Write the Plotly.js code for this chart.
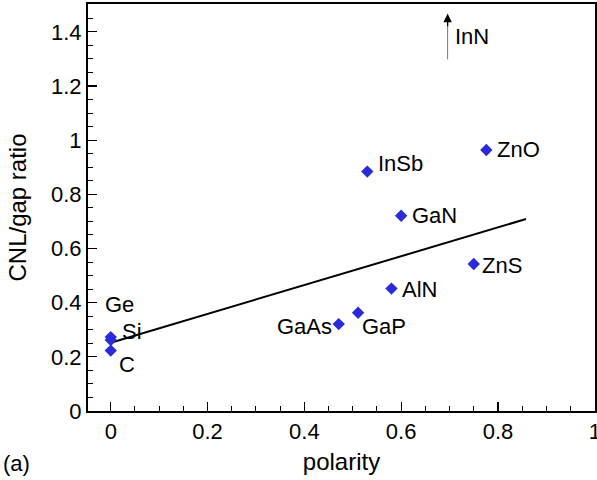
<!DOCTYPE html>
<html><head><meta charset="utf-8">
<script src="https://cdn.plot.ly/plotly-3.0.1.min.js"></script>
<style>body{margin:0;padding:0;background:#fff}#chart{width:597px;height:480px}</style>
</head><body><div id="chart"></div>
<script>
// Data
const materials = ["Ge","Si","C","InSb","GaN","ZnO","ZnS","AlN","GaP","GaAs"];
const polarity  = [0.0, 0.0, 0.0, 0.53, 0.60, 0.776, 0.75, 0.58, 0.511, 0.471];
const ratio     = [0.273, 0.262, 0.223, 0.884, 0.721, 0.964, 0.543, 0.452, 0.363, 0.321];
const fitX = [0.0, 0.858];
const fitY = [0.252, 0.709];
const innX = [0.696, 0.696];
const innY = [1.293, 1.467];
const innLabel = "InN";

// label placement (pixels, relative to point)
const labelShift = {
  Ge:[-8,33,'left'], Si:[9,9,'left'], C:[6,-14,'left'], InSb:[9,8,'left'], GaN:[9,0,'left'],
  ZnO:[9,0,'left'], ZnS:[6,-2,'left'], AlN:[9,-1,'left'], GaP:[2,-14,'left'], GaAs:[-5,-2,'right']
};

const font = {family:"Liberation Sans, Arial, Helvetica, sans-serif", size:22, color:"#000"};
const titleFont = {family:"Liberation Sans, Arial, Helvetica, sans-serif", size:24, color:"#000"};

const traces = [
  {x:fitX, y:fitY, mode:'lines', line:{color:'#000', width:2}, hoverinfo:'skip'},
  {x:polarity, y:ratio, mode:'markers', marker:{symbol:'diamond', size:9.5, color:'#2a2ad8'}, text:materials}
];

const annotations = materials.map((m,i)=>({
  x:polarity[i], y:ratio[i], xref:'x', yref:'y', text:m, showarrow:false,
  xanchor:labelShift[m][2], yanchor:'middle', xshift:labelShift[m][0], yshift:labelShift[m][1], font:font
}));
// InN arrow: thin gray shaft, black head
annotations.push({
  x:innX[0], y:innY[1], ax:innX[1], ay:innY[0], xref:'x', yref:'y', axref:'x', ayref:'y',
  text:'', showarrow:true, arrowhead:0, arrowwidth:1, arrowcolor:'#777'
});
annotations.push({
  x:innX[0], y:innY[1], ax:0, ay:14, xref:'x', yref:'y',
  text:'', showarrow:true, arrowhead:2, arrowsize:1.3, arrowwidth:1.3, arrowcolor:'#000'
});
annotations.push({x:innX[0], y:innY[1], xref:'x', yref:'y', text:innLabel, showarrow:false,
  xanchor:'left', yanchor:'middle', xshift:5, yshift:-23, font:font});
annotations.push({x:0, y:0, xref:'paper', yref:'paper', text:'(a)', showarrow:false,
  xanchor:'left', yanchor:'middle', xshift:-87, yshift:-52, font:font});

const layout = {
  width:597, height:480,
  margin:{l:88, r:2, t:4, b:69},
  paper_bgcolor:'#fff', plot_bgcolor:'#fff',
  showlegend:false,
  font:font,
  xaxis:{range:[-0.047, 1.0005], tickvals:[0,0.2,0.4,0.6,0.8,1], ticktext:['0','0.2','0.4','0.6','0.8','1'],
    ticklabeloverflow:'allow',
    ticks:'inside', ticklen:9, tickwidth:1.2, tickcolor:'#000',
    minor:{dtick:0.05, ticks:'inside', ticklen:5, tickwidth:1, tickcolor:'#000', showgrid:false},
    showgrid:false, zeroline:false, showline:true, linewidth:2, linecolor:'#000', mirror:true,
    tickfont:font, title:{text:'polarity', font:titleFont, standoff:10}},
  yaxis:{range:[0, 1.503], tickvals:[0,0.2,0.4,0.6,0.8,1,1.2,1.4], ticktext:['0','0.2','0.4','0.6','0.8','1','1.2','1.4'],
    ticks:'inside', ticklen:9, tickwidth:1.2, tickcolor:'#000',
    minor:{dtick:0.05, ticks:'inside', ticklen:5, tickwidth:1, tickcolor:'#000', showgrid:false},
    showgrid:false, zeroline:false, showline:true, linewidth:2, linecolor:'#000', mirror:true,
    tickfont:font, title:{text:'CNL/gap ratio', font:titleFont, standoff:18}},
  annotations:annotations
};
Plotly.newPlot('chart', traces, layout, {displayModeBar:false, staticPlot:true});
</script></body></html>
